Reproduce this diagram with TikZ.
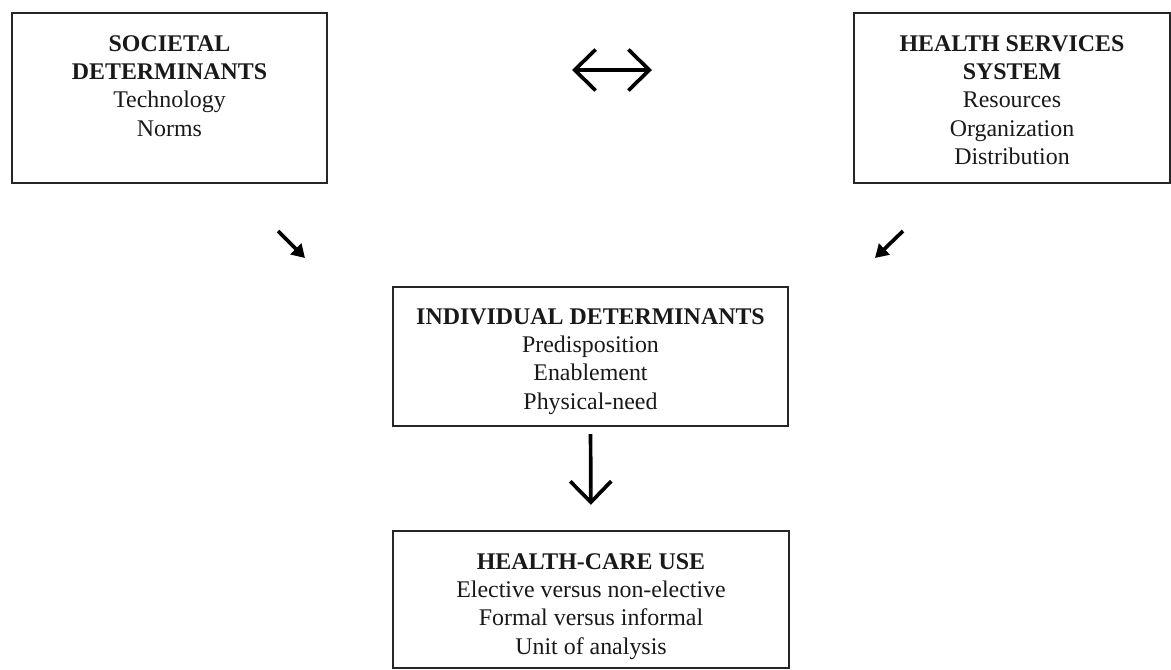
\documentclass[tikz,border=0pt]{standalone}
\usepackage{fontspec}
\setmainfont{Liberation Serif}
\usetikzlibrary{positioning,arrows.meta}

\begin{document}
\begin{tikzpicture}[
        frame/.style={
            rectangle,
            draw=black!85,
            line width=1.3pt,
            inner sep=0pt
        },
        boxtext/.style={
            inner sep=0pt,
            align=center,
            font=\fontsize{13.6}{16.2}\selectfont,
            text=black!90
        },
        barb/.tip={Straight Barb[length=0.42cm, width=0.82cm, line width=2.1pt]},
        openarrow/.style={
            line width=2.1pt,
            -barb
        },
        twoway/.style={
            line width=2.1pt,
            barb-barb
        },
        filledarrow/.style={
            line width=2.1pt,
            -{Triangle[length=0.26cm, width=0.30cm]}
        }
    ]

    % (0,0) at top left corner, y goes down
    \useasboundingbox (0,0) rectangle (23.42,-13.38);

    % --- boxes ---
    \node[frame, minimum width=6.30cm, minimum height=3.40cm] (soc) at (3.39,-1.96) {};
    \node[frame, minimum width=6.32cm, minimum height=3.40cm] (hss) at (20.24,-1.96) {};
    \node[frame, minimum width=7.90cm, minimum height=2.78cm] (ind) at (11.81,-7.13) {};
    \node[frame, minimum width=7.92cm, minimum height=2.74cm] (use) at (11.82,-11.99) {};

    % --- texts ---
    \node[boxtext, below=0.46cm of soc.north] (soc-text)
        {\textbf{SOCIETAL}\\ \textbf{DETERMINANTS}\\ Technology\\ Norms};
    \node[boxtext, below=0.46cm of hss.north] (hss-text)
        {\textbf{HEALTH SERVICES}\\ \textbf{SYSTEM}\\ Resources\\ Organization\\ Distribution};
    \node[boxtext, below=0.44cm of ind.north] (ind-text)
        {\textbf{INDIVIDUAL DETERMINANTS}\\ Predisposition\\ Enablement\\ Physical-need};
    \node[boxtext, below=0.46cm of use.north] (use-text)
        {\textbf{HEALTH-CARE USE}\\ Elective versus non-elective\\ Formal versus informal\\ Unit of analysis};

    % --- arrows ---
    \coordinate (link-l) at (11.44,-1.40);
    \coordinate (link-r) at (13.04,-1.40);
    \coordinate (soc-out) at (5.56,-4.62);
    \coordinate (soc-in) at (6.10,-5.16);
    \coordinate (hss-out) at (18.06,-4.62);
    \coordinate (hss-in) at (17.50,-5.16);

    \draw[twoway] (link-l) -- (link-r);
    \draw[filledarrow] (soc-out) -- (soc-in);
    \draw[filledarrow] (hss-out) -- (hss-in);
    \draw[openarrow, shorten <=0.14cm, shorten >=0.50cm] (ind.south) -- (use.north);

\end{tikzpicture}
\end{document}
